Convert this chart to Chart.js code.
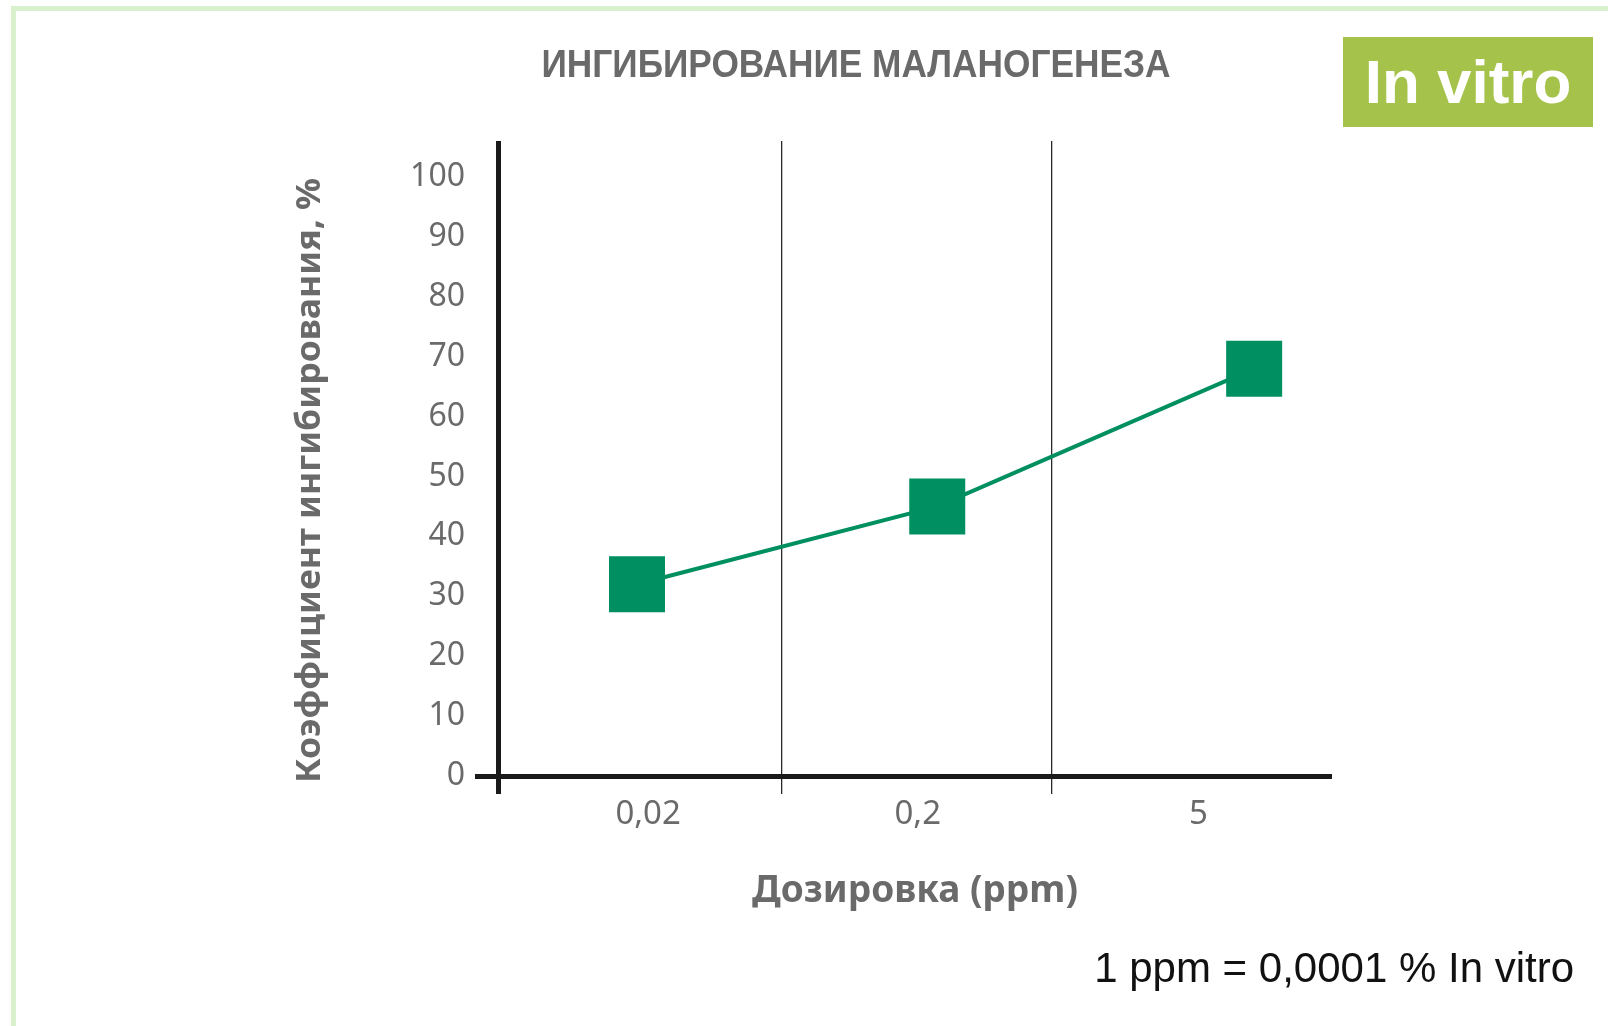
<!DOCTYPE html>
<html>
<head>
<meta charset="utf-8">
<script src="https://cdn.jsdelivr.net/npm/chart.js@4/dist/chart.umd.min.js"></script>
<style>
  html, body { margin: 0; padding: 0; background: #ffffff; }
  #wrap { width: 1608px; height: 1026px; position: relative; }
  canvas { display: block; }
</style>
</head>
<body>
<div id="wrap"><canvas id="c" width="1608" height="1026"></canvas></div>
<script>
// ---- data ----
const chartTitle = 'ИНГИБИРОВАНИЕ МАЛАНОГЕНЕЗА';
const badgeText = 'In vitro';
const yTitle = 'Коэффициент ингибирования, %';
const xTitle = 'Дозировка (ppm)';
const footnote = '1 ppm = 0,0001 % In vitro';
const categories = ['0,02', '0,2', '5'];
const labelPos = [0.54, 1.51, 2.52];
const values = [32, 45, 68];
const pointX = [0.5, 1.58, 2.72];
const dividers = [0, 1.02, 1.99, 3];
const yTicks = [0, 10, 20, 30, 40, 50, 60, 70, 80, 90, 100];

const GREEN = '#008f60';
const AXIS = '#1a1a1a';
const GREY = '#6a6a6a';

const xTickVals = [...dividers, ...labelPos].sort((a, b) => a - b);

function fitText(ctx, text, x, y, size, weight, family, targetW, color, align, baseline) {
  ctx.save();
  ctx.font = weight + ' ' + size + 'px ' + family;
  const w = ctx.measureText(text).width;
  const sx = targetW ? targetW / w : 1;
  ctx.translate(x, y);
  ctx.scale(sx, 1);
  ctx.fillStyle = color;
  ctx.textAlign = align;
  ctx.textBaseline = baseline;
  ctx.fillText(text, 0, 0);
  ctx.restore();
}

const decor = {
  id: 'decor',
  afterDraw(chart) {
    const ctx = chart.ctx;
    const ys = chart.scales.y;
    // frame
    ctx.save();
    ctx.fillStyle = '#d9f0cd';
    ctx.fillRect(11, 6, 1608 - 11, 5);
    ctx.fillRect(11, 6, 5, 1026 - 6);
    // badge
    ctx.fillStyle = '#a5c34a';
    ctx.fillRect(1343, 37, 250, 90);
    ctx.restore();
    fitText(ctx, badgeText, 1468, 103, 62, 'bold', '"Liberation Sans", Arial, sans-serif', 0, '#ffffff', 'center', 'alphabetic');
    // title
    fitText(ctx, chartTitle, 856, 77, 39, 'bold', '"Liberation Sans Narrow", "Liberation Sans", sans-serif', 629, GREY, 'center', 'alphabetic');
    // y title
    ctx.save();
    ctx.translate(310, ys.getPixelForValue(50) + 4);
    ctx.rotate(-Math.PI / 2);
    fitText(ctx, yTitle, 0, 0, 34, 'bold', '"Noto Sans", sans-serif', 605, GREY, 'center', 'middle');
    ctx.restore();
    // footnote
    fitText(ctx, footnote, 1574, 982, 42, 'normal', '"Liberation Sans", Arial, sans-serif', 0, '#111111', 'right', 'alphabetic');
  }
};

new Chart(document.getElementById('c'), {
  type: 'line',
  data: {
    datasets: [{
      data: values.map((v, i) => ({ x: pointX[i], y: v })),
      borderColor: GREEN,
      borderWidth: 4,
      backgroundColor: GREEN,
      pointStyle: 'rect',
      pointRadius: 39.6,
      pointHoverRadius: 39.6,
      pointBackgroundColor: GREEN,
      pointBorderWidth: 0,
      tension: 0,
      fill: false,
      clip: false
    }]
  },
  options: {
    responsive: false,
    animation: false,
    devicePixelRatio: 1,
    layout: { padding: { top: 141, right: 276, bottom: 0, left: 0 } },
    plugins: { legend: { display: false }, tooltip: { enabled: false }, title: { display: false } },
    scales: {
      x: {
        type: 'linear',
        min: 0,
        max: 3,
        afterBuildTicks: s => { s.ticks = xTickVals.map(v => ({ value: v })); },
        afterFit: s => { s.height = 250; },
        border: { display: false },
        grid: {
          drawTicks: true,
          tickLength: 18,
          color: ctx => {
            const v = ctx.tick ? ctx.tick.value : null;
            if (v === dividers[0]) return AXIS;
            if (v === dividers[1] || v === dividers[2]) return '#2a2a2a';
            return 'rgba(0,0,0,0)';
          },
          lineWidth: ctx => {
            const v = ctx.tick ? ctx.tick.value : null;
            if (v === dividers[0]) return 5;
            if (v === dividers[1] || v === dividers[2]) return 1.3;
            return 0;
          }
        },
        ticks: {
          autoSkip: false,
          maxRotation: 0,
          padding: 1,
          color: GREY,
          font: { family: '"Noto Sans", sans-serif', size: 33 },
          callback: v => {
            const i = labelPos.indexOf(v);
            return i >= 0 ? categories[i] : '';
          }
        },
        title: {
          display: true,
          text: xTitle,
          color: GREY,
          font: { family: '"Noto Sans", sans-serif', size: 37, weight: 'bold' },
          padding: { top: 0, bottom: 112 }
        }
      },
      y: {
        type: 'linear',
        min: 0,
        max: 106,
        afterBuildTicks: s => { s.ticks = yTicks.map(v => ({ value: v })); },
        afterFit: s => { s.width = 498; },
        border: { display: false },
        grid: {
          drawTicks: true,
          tickLength: 23,
          color: ctx => (ctx.tick && ctx.tick.value === 0) ? AXIS : 'rgba(0,0,0,0)',
          lineWidth: ctx => (ctx.tick && ctx.tick.value === 0) ? 5 : 0
        },
        ticks: {
          padding: 10,
          color: GREY,
          font: { family: '"Noto Sans", sans-serif', size: 32 },
          callback: v => String(v)
        }
      }
    }
  },
  plugins: [decor]
});
</script>
</body>
</html>
